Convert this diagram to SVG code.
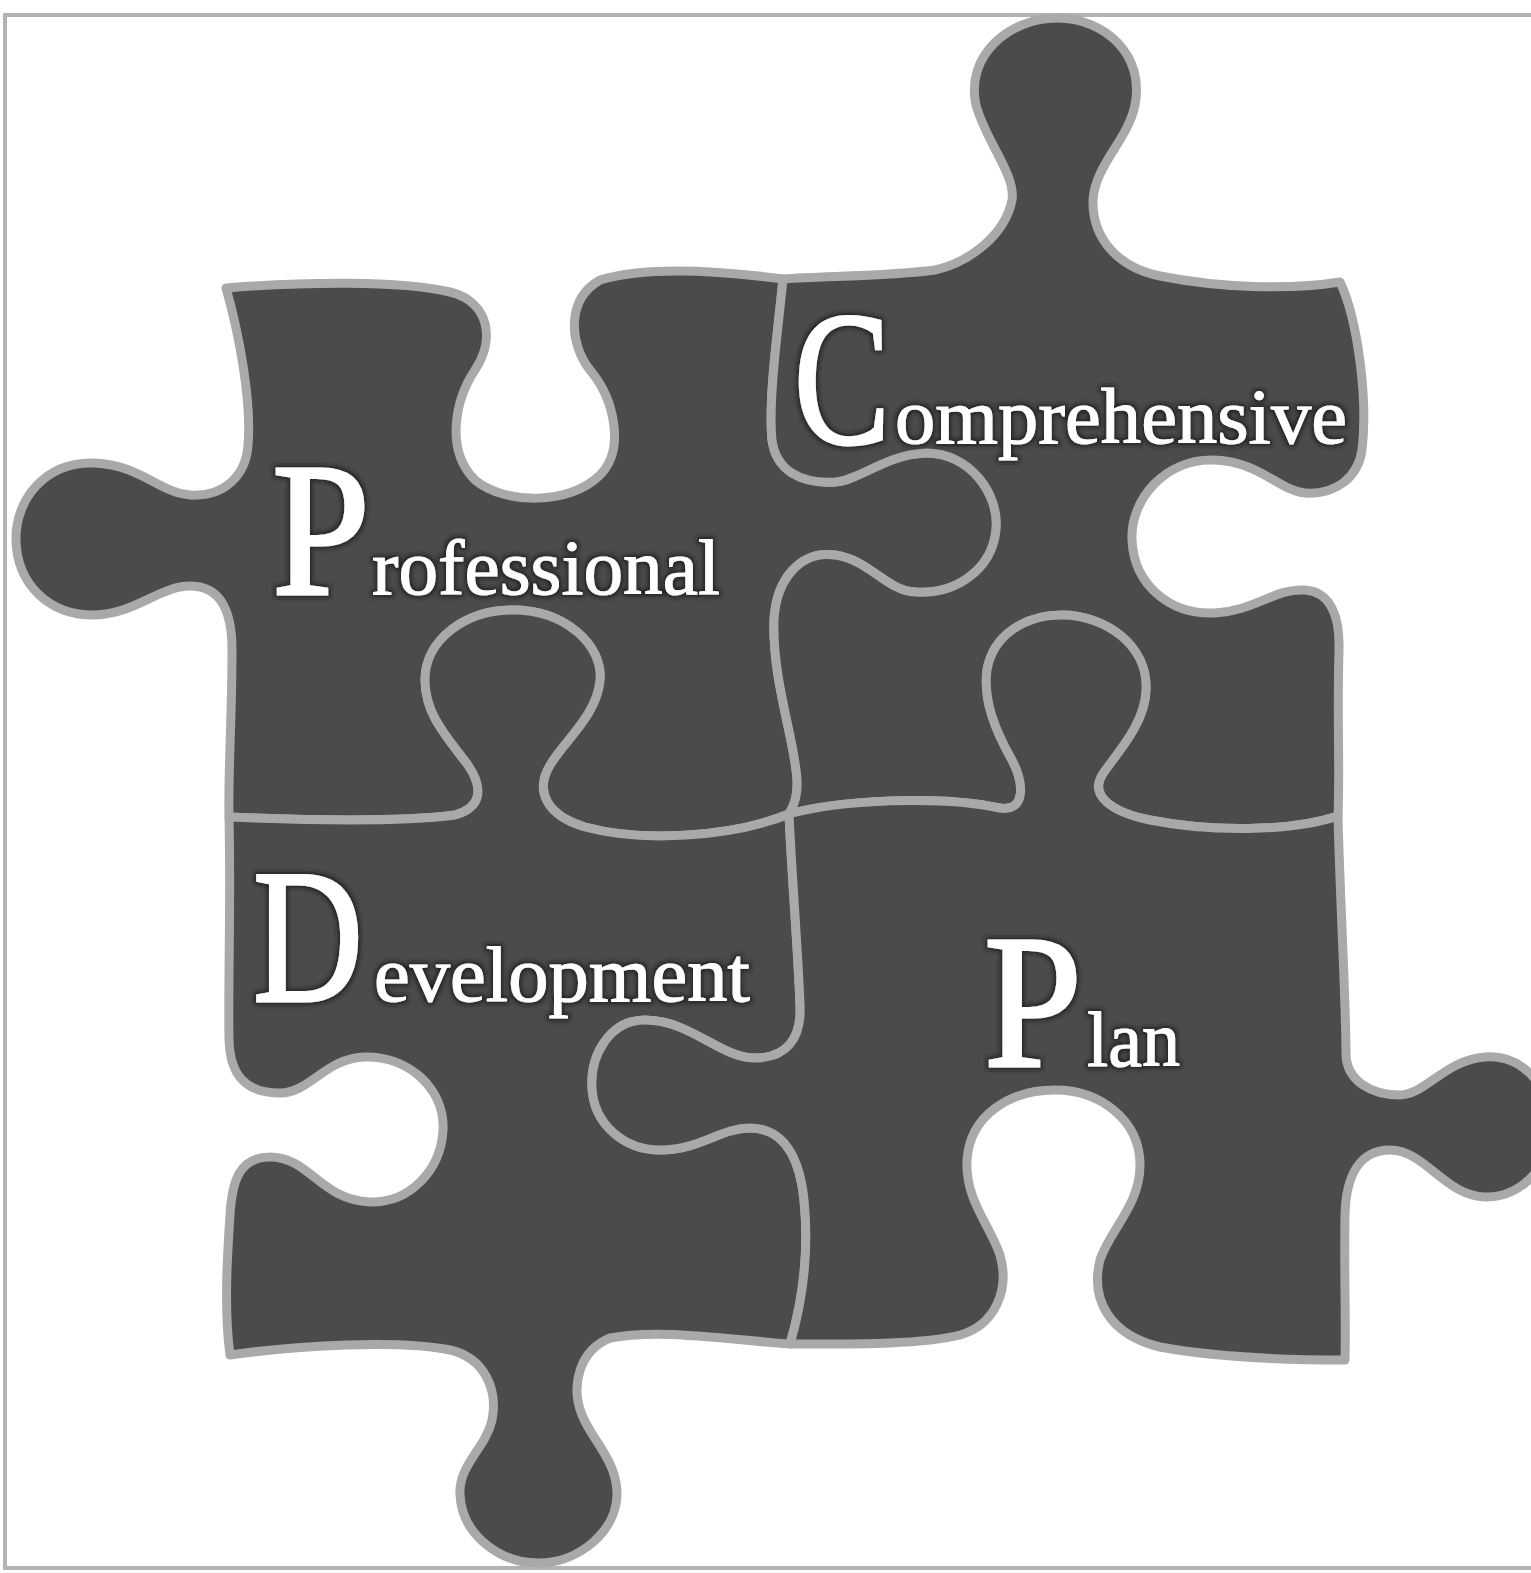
<svg xmlns="http://www.w3.org/2000/svg" width="1531" height="1573" viewBox="0 0 1531 1573">
  <defs>
    <style>
      .piece { fill: #4b4b4b; stroke: #a9a9a9; stroke-width: 9; stroke-linejoin: round; }
      .frame { fill: none; stroke: #b3b3b3; stroke-width: 4; }
      .big { font-family: "Liberation Serif", "Times New Roman", serif; font-size: 190px; fill: #ffffff; stroke: #ffffff; stroke-width: 3; }
      .small { font-family: "Liberation Serif", "Times New Roman", serif; font-size: 78px; fill: #ffffff; stroke: #ffffff; stroke-width: 1; }
    </style>
    <!-- dark glow behind the white lettering -->
    <filter id="halo" x="-10%" y="-20%" width="120%" height="140%">
      <feMorphology in="SourceAlpha" operator="dilate" radius="2" result="grown"/>
      <feGaussianBlur in="grown" stdDeviation="2.2" result="soft"/>
      <feFlood flood-color="#1c1c1c" flood-opacity="0.85"/>
      <feComposite in2="soft" operator="in" result="glow"/>
      <feMerge>
        <feMergeNode in="glow"/>
        <feMergeNode in="SourceGraphic"/>
      </feMerge>
    </filter>
  </defs>

  <rect width="1531" height="1573" fill="#ffffff"/>
  <path class="frame" d="M 1531 15 H 5 V 1568 H 1531"/>

  <!-- top-left piece -->
  <g id="piece-professional">
    <path class="piece" d="M 226 288
      C 300 282, 400 280, 450 292
      C 490 302, 495 340, 475 370
      C 455 400, 445 450, 475 480
      C 505 505, 570 505, 600 475
      C 625 450, 615 400, 590 370
      C 570 345, 565 300, 600 280
      C 650 265, 730 272, 783 279
      C 778 330, 768 400, 772 440
      C 776 470, 800 484, 835 482
      C 860 480, 885 455, 925 453
      C 970 452, 1000 495, 996 530
      C 992 570, 955 595, 915 592
      C 885 590, 870 560, 835 555
      C 800 550, 776 580, 774 620
      C 772 680, 795 740, 797 780
      C 798 795, 794 806, 789 814
      C 730 838, 640 842, 585 827
      C 545 815, 535 790, 550 765
      C 565 740, 597 715, 600 680
      C 603 645, 565 610, 513 610
      C 465 610, 425 640, 425 680
      C 425 715, 448 738, 468 765
      C 485 790, 480 808, 455 815
      C 400 822, 300 820, 229 817
      C 228 770, 232 720, 232 650
      C 232 610, 220 586, 190 586
      C 160 586, 135 614, 95 615
      C 50 616, 17 585, 16 540
      C 15 500, 45 461, 95 463
      C 140 465, 160 493, 190 495
      C 225 497, 246 475, 248 445
      C 252 400, 238 330, 226 288 Z"/>
  </g>

  <!-- top-right piece -->
  <g id="piece-comprehensive">
    <path class="piece" d="M 783 279
      C 830 276, 890 276, 935 270
      C 970 262, 1005 235, 1012 200
      C 1016 175, 985 140, 976 105
      C 965 55, 1010 18, 1057 18
      C 1105 18, 1145 55, 1135 105
      C 1128 140, 1095 165, 1093 200
      C 1092 240, 1120 268, 1160 276
      C 1220 288, 1290 290, 1340 282
      C 1358 320, 1368 400, 1362 450
      C 1358 478, 1335 495, 1305 493
      C 1280 491, 1260 462, 1215 460
      C 1165 458, 1130 500, 1132 540
      C 1134 585, 1170 615, 1215 613
      C 1255 611, 1275 588, 1305 590
      C 1330 592, 1340 615, 1339 650
      C 1337 720, 1340 770, 1338 816
      C 1290 832, 1210 832, 1150 820
      C 1110 812, 1090 795, 1102 775
      C 1115 755, 1145 725, 1146 690
      C 1148 645, 1105 615, 1062 615
      C 1025 615, 993 635, 987 670
      C 983 700, 995 730, 1012 760
      C 1025 785, 1025 812, 1000 808
      C 940 795, 840 800, 789 814
      C 794 806, 798 795, 797 780
      C 795 740, 772 680, 774 620
      C 776 580, 800 550, 835 555
      C 870 560, 885 590, 915 592
      C 955 595, 992 570, 996 530
      C 1000 495, 970 452, 925 453
      C 885 455, 860 480, 835 482
      C 800 484, 776 470, 772 440
      C 768 400, 778 330, 783 279 Z"/>
  </g>

  <!-- bottom-left piece -->
  <g id="piece-development">
    <path class="piece" d="M 229 817
      C 300 820, 400 822, 455 815
      C 480 808, 485 790, 468 765
      C 448 738, 425 715, 425 680
      C 425 640, 465 610, 513 610
      C 565 610, 603 645, 600 680
      C 597 715, 565 740, 550 765
      C 535 790, 545 815, 585 827
      C 640 842, 730 838, 789 814
      C 792 880, 798 950, 800 1005
      C 802 1040, 785 1058, 755 1058
      C 720 1058, 690 1020, 645 1020
      C 610 1020, 590 1055, 592 1088
      C 594 1125, 625 1150, 660 1150
      C 700 1150, 720 1128, 750 1128
      C 785 1128, 800 1160, 804 1200
      C 810 1260, 800 1310, 790 1344
      C 730 1340, 660 1328, 610 1338
      C 580 1350, 570 1385, 582 1415
      C 592 1440, 616 1460, 617 1492
      C 618 1530, 580 1563, 538 1563
      C 500 1563, 462 1535, 460 1495
      C 458 1465, 486 1448, 492 1420
      C 498 1390, 485 1358, 450 1350
      C 400 1340, 300 1345, 230 1355
      C 224 1310, 227 1260, 230 1215
      C 232 1180, 240 1157, 270 1157
      C 310 1157, 320 1200, 370 1202
      C 410 1203, 441 1170, 443 1130
      C 445 1090, 410 1056, 365 1057
      C 325 1058, 310 1093, 280 1093
      C 245 1093, 230 1075, 229 1040
      C 228 980, 231 900, 229 817 Z"/>
  </g>

  <!-- bottom-right piece -->
  <g id="piece-plan">
    <path class="piece" d="M 789 814
      C 840 800, 940 795, 1000 808
      C 1025 812, 1025 785, 1012 760
      C 995 730, 983 700, 987 670
      C 993 635, 1025 615, 1062 615
      C 1105 615, 1148 645, 1146 690
      C 1145 725, 1115 755, 1102 775
      C 1090 795, 1110 812, 1150 820
      C 1210 832, 1290 832, 1338 816
      C 1340 900, 1346 1000, 1346 1055
      C 1347 1080, 1370 1095, 1400 1095
      C 1425 1095, 1445 1060, 1485 1057
      C 1525 1054, 1550 1090, 1552 1122
      C 1554 1160, 1525 1198, 1485 1197
      C 1445 1196, 1425 1150, 1390 1150
      C 1360 1150, 1346 1175, 1345 1215
      C 1344 1270, 1346 1320, 1345 1360
      C 1300 1360, 1220 1358, 1160 1347
      C 1110 1335, 1090 1300, 1100 1260
      C 1110 1230, 1140 1205, 1140 1165
      C 1140 1120, 1100 1090, 1055 1090
      C 1010 1090, 970 1115, 967 1160
      C 965 1200, 990 1225, 1000 1255
      C 1010 1290, 995 1325, 960 1335
      C 920 1345, 850 1344, 790 1344
      C 800 1310, 810 1260, 804 1200
      C 800 1160, 785 1128, 750 1128
      C 720 1128, 700 1150, 660 1150
      C 625 1150, 594 1125, 592 1088
      C 590 1055, 610 1020, 645 1020
      C 690 1020, 720 1058, 755 1058
      C 785 1058, 802 1040, 800 1005
      C 798 950, 792 880, 789 814 Z"/>
  </g>

  <!-- lettering -->
  <g id="labels" filter="url(#halo)">
    <text class="big" x="272" y="594" textLength="98" lengthAdjust="spacingAndGlyphs">P</text>
    <text class="small" x="372" y="594" textLength="348" lengthAdjust="spacingAndGlyphs">rofessional</text>
    <text class="big" x="794" y="443" textLength="96" lengthAdjust="spacingAndGlyphs">C</text>
    <text class="small" x="895" y="443" textLength="452" lengthAdjust="spacingAndGlyphs">omprehensive</text>
    <text class="big" x="253" y="1001" textLength="110" lengthAdjust="spacingAndGlyphs">D</text>
    <text class="small" x="374" y="1001" textLength="376" lengthAdjust="spacingAndGlyphs">evelopment</text>
    <text class="big" x="984" y="1066" textLength="98" lengthAdjust="spacingAndGlyphs">P</text>
    <text class="small" x="1087" y="1066" textLength="93" lengthAdjust="spacingAndGlyphs">lan</text>
  </g>
</svg>
